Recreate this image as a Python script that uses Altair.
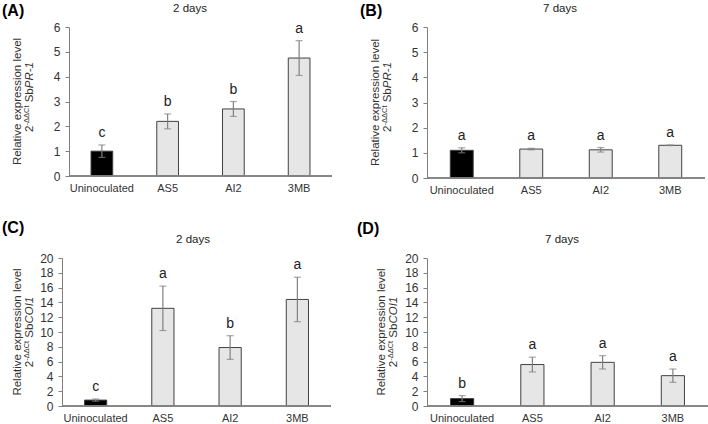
import altair as alt
import pandas as pd

categories = ["Uninoculated", "AS5", "AI2", "3MB"]

pr1_2d = [1.0, 2.2, 2.7, 4.75]
pr1_2d_err = [0.25, 0.3, 0.3, 0.7]
pr1_2d_letters = ["c", "b", "b", "a"]

pr1_7d = [1.1, 1.15, 1.12, 1.3]
pr1_7d_err = [0.1, 0.03, 0.09, 0.01]
pr1_7d_letters = ["a", "a", "a", "a"]

coi1_2d = [0.8, 13.2, 7.9, 14.4]
coi1_2d_err = [0.15, 3.0, 1.6, 3.0]
coi1_2d_letters = ["c", "a", "b", "a"]

coi1_7d = [1.0, 5.6, 5.9, 4.1]
coi1_7d_err = [0.4, 1.0, 0.9, 0.9]
coi1_7d_letters = ["b", "a", "a", "a"]

bar_fills = ["#000000", "#e6e6e6", "#e6e6e6", "#e6e6e6"]

FONT = "Liberation Sans"
GRAY = "#808080"
TXT = "#333333"


def char_w(s, size):
    w = {"2": .556, "-": .333, "Δ": .668, "C": .722, "t": .278, " ": .278,
         "S": .667, "b": .556, "P": .667, "R": .722, "1": .556, "O": .778, "I": .278}
    return sum(w.get(c, .556) for c in s) * size


def panel(vals, errs, letters, ymax, ystep, W, H, band_a, band_b, axis_x,
          title, title_x, tag, tag_x, tag_y, t1x, t2x, gene, t2c):
    df = pd.DataFrame({
        "cat": categories,
        "val": vals,
        "lo": [v - e for v, e in zip(vals, errs)],
        "hi": [v + e for v, e in zip(vals, errs)],
        "letter": letters,
        "fillc": bar_fills,
    })
    n = len(categories)
    pi = 0.67
    s = (band_b - band_a) / n
    po = (W / s - n + pi) / 2
    al = (band_a + pi / 2 * s) / (W - s * (n - pi))

    xscale = alt.Scale(paddingInner=pi, paddingOuter=po, align=al)
    xaxis = alt.Axis(title=None, domain=False, ticks=False, labelAngle=0,
                     labelPadding=6, labelFont=FONT, labelFontSize=11,
                     labelColor=TXT)
    yscale = alt.Scale(domain=[0, ymax], nice=False, zero=True)

    def yaxis():
        return alt.Axis(title=None, values=list(range(0, ymax + 1, ystep)),
                        offset=-axis_x, grid=False, domainColor=GRAY,
                        tickColor=GRAY, tickSize=4, labelPadding=5,
                        labelFont=FONT, labelFontSize=12, labelColor=TXT)

    X = alt.X("cat:N", sort=categories, scale=xscale, axis=xaxis)
    base = alt.Chart(df)
    bars = base.mark_bar(stroke="#404040", strokeWidth=1).encode(
        x=X, y=alt.Y("val:Q", scale=yscale, axis=yaxis()),
        fill=alt.Fill("fillc:N", scale=None))
    err = base.mark_rule(color=GRAY, strokeWidth=1.2).encode(
        x=X, y=alt.Y("lo:Q", scale=yscale, axis=yaxis()), y2="hi:Q")
    cap_lo = base.mark_tick(color=GRAY, size=7, thickness=1.2, orient="horizontal").encode(
        x=X, y=alt.Y("lo:Q", scale=yscale, axis=yaxis()))
    cap_hi = base.mark_tick(color=GRAY, size=7, thickness=1.2, orient="horizontal").encode(
        x=X, y=alt.Y("hi:Q", scale=yscale, axis=yaxis()))
    let = base.mark_text(dy=-8, fontSize=14, font=FONT, color="#222222",
                         baseline="alphabetic").encode(
        x=X, y=alt.Y("hi:Q", scale=yscale, axis=yaxis()), text="letter:N")
    baseline_rule = base.mark_rule(color=GRAY, strokeWidth=1).encode(
        x=alt.value(band_a), x2=alt.value(band_b), y=alt.value(H))

    ttl = alt.Chart(pd.DataFrame({"t": [title]})).mark_text(
        font=FONT, fontSize=11.5, color="#222222", baseline="alphabetic", align="center").encode(
        text="t:N", x=alt.value(title_x), y=alt.value(-15))
    tg = alt.Chart(pd.DataFrame({"t": [tag]})).mark_text(
        font=FONT, fontSize=16, fontWeight="bold", color="#000000",
        baseline="alphabetic", align="left").encode(
        text="t:N", x=alt.value(tag_x), y=alt.value(tag_y))

    l1 = alt.Chart(pd.DataFrame({"t": ["Relative expression level"]})).mark_text(
        font=FONT, fontSize=11.5, color=TXT, angle=270, align="center",
        baseline="alphabetic").encode(text="t:N", x=alt.value(t1x), y=alt.value(H / 2))
    fs, fss = 11.5, 7.5
    w2 = char_w("2", fs)
    wsup = char_w("-ΔΔCt", fss)
    wsp = char_w(" ", fs)
    wsb = char_w("Sb", fs)
    wg = char_w(gene, fs)
    total = w2 + wsup + wsp + wsb + wg
    y0 = t2c + total / 2

    def piece(txt, x, y, size, style="normal"):
        return alt.Chart(pd.DataFrame({"t": [txt]})).mark_text(
            font=FONT, fontSize=size, fontStyle=style, color=TXT, angle=270,
            align="left", baseline="alphabetic").encode(
            text="t:N", x=alt.value(x), y=alt.value(y))
    pieces = [
        piece("2", t2x, y0, fs),
        piece("-ΔΔCt", t2x - 4, y0 - w2, fss),
        piece("Sb", t2x, y0 - w2 - wsup - wsp, fs),
        piece(gene, t2x, y0 - w2 - wsup - wsp - wsb, fs, "italic"),
    ]

    return alt.layer(bars, err, cap_lo, cap_hi, let, baseline_rule, ttl, tg, l1,
                     *pieces).properties(width=W, height=H)


A = panel(pr1_2d, pr1_2d_err, pr1_2d_letters, 6, 1, 270, 149, 7, 270, 7,
          "2 days", 128, "(A)", -60, -11, -41, -29, "PR-1", 70)
B = panel(pr1_7d, pr1_7d_err, pr1_7d_letters, 6, 1, 278, 151, 0, 278, 0,
          "7 days", 133, "(B)", -67, -11, -48, -36, "PR-1", 70)
C = panel(coi1_2d, coi1_2d_err, coi1_2d_letters, 20, 2, 273, 148, 0, 269, 0,
          "2 days", 131, "(C)", -60, -25, -41, -29, "COI1", 74)
D = panel(coi1_7d, coi1_7d_err, coi1_7d_letters, 20, 2, 281, 148, 0, 281, 0,
          "7 days", 135, "(D)", -70, -24, -42, -30, "COI1", 74)

chart = alt.concat(
    A, B, C, D, columns=2,
    spacing=alt.RowColnumber(row=80, column=92),
    bounds="flush",
    align=alt.RowColLayoutAlign(row="all", column="none"),
).properties(
    autosize=alt.AutoSizeParams(type="none"),
    padding={"left": 62, "top": 27, "right": 646, "bottom": 397},
).configure_view(stroke=None)

chart.save("out.html", embed_options={"renderer": "svg", "actions": False})
